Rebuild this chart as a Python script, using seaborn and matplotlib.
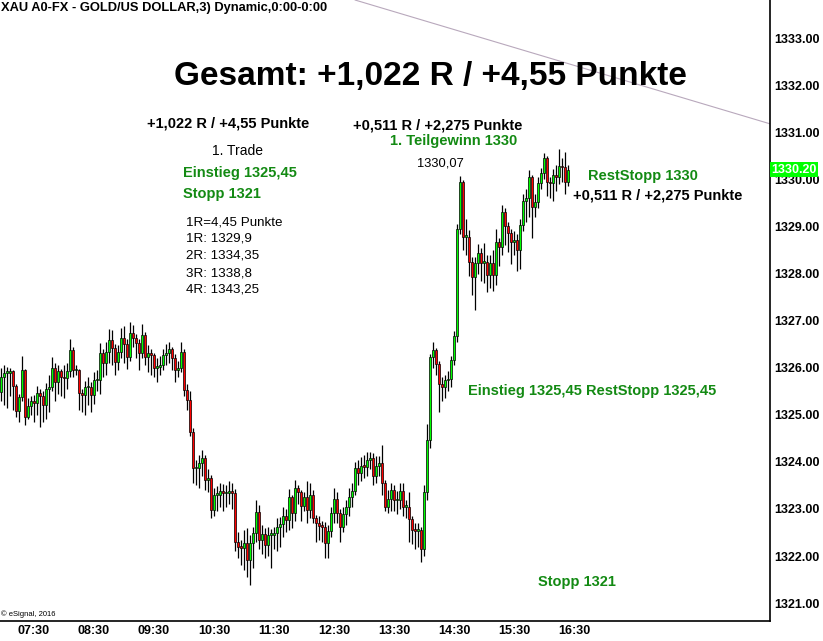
import numpy as np
import pandas as pd
import seaborn as sns
import matplotlib.pyplot as plt

sns.set_theme(style="white")
plt.rcParams['font.family'] = ['Liberation Sans', 'DejaVu Sans']

# 3-minute gold bars, 06:57 .. 16:24 (open = previous close)
first_open = 1325.49
close = [1325.81, 1325.89, 1325.89, 1325.93, 1325.61, 1325.08, 1325.38, 1325.95, 1324.96, 1325.19,
         1325.30, 1325.25, 1325.47, 1325.40, 1325.21, 1325.55, 1325.59, 1326.00, 1325.70, 1325.93,
         1325.81, 1325.78, 1325.93, 1326.38, 1325.95, 1325.95, 1325.47, 1325.42, 1325.59, 1325.59,
         1325.42, 1325.74, 1325.74, 1326.31, 1326.10, 1326.34, 1326.59, 1326.42, 1326.12, 1326.34,
         1326.63, 1326.51, 1326.23, 1326.74, 1326.63, 1326.53, 1326.31, 1326.70, 1326.23, 1326.31,
         1326.27, 1326.00, 1326.02, 1326.06, 1326.27, 1326.31, 1326.40, 1326.21, 1325.95, 1326.00,
         1326.34, 1325.53, 1325.32, 1324.64, 1323.87, 1323.87, 1323.98, 1324.09, 1323.62, 1323.66,
         1322.98, 1323.30, 1323.30, 1323.39, 1323.34, 1323.34, 1323.39, 1323.34, 1322.30, 1322.20,
         1322.18, 1322.28, 1321.92, 1322.28, 1322.49, 1322.94, 1322.35, 1322.47, 1322.24, 1322.45,
         1322.45, 1322.49, 1322.62, 1322.68, 1322.85, 1322.77, 1323.26, 1322.92, 1323.45, 1323.36,
         1323.07, 1323.26, 1322.98, 1323.30, 1322.81, 1322.71, 1322.64, 1322.62, 1322.28, 1322.54,
         1322.92, 1323.22, 1322.92, 1322.62, 1322.90, 1323.05, 1323.26, 1323.39, 1323.87, 1323.77,
         1323.92, 1323.90, 1324.04, 1324.09, 1323.70, 1323.92, 1323.98, 1323.56, 1323.05, 1323.22,
         1323.41, 1323.19, 1323.19, 1323.39, 1323.05, 1323.05, 1322.79, 1322.56, 1322.54, 1322.56,
         1322.15, 1323.36, 1324.47, 1326.23, 1326.38, 1326.08, 1325.66, 1325.59, 1325.74, 1325.76,
         1326.17, 1326.68, 1328.95, 1329.94, 1328.78, 1328.78, 1328.25, 1327.93, 1328.23, 1328.44,
         1328.23, 1328.25, 1327.97, 1328.23, 1327.97, 1328.67, 1328.57, 1329.31, 1329.01, 1328.86,
         1328.67, 1328.71, 1328.50, 1329.03, 1329.54, 1329.61, 1330.05, 1329.41, 1329.52, 1329.92,
         1330.14, 1330.45, 1329.94, 1329.92, 1330.09, 1330.05, 1330.28, 1330.26, 1329.94, 1330.20]
high = [1326.00, 1326.05, 1326.02, 1326.00, 1325.95, 1325.65, 1325.45, 1326.25, 1325.98, 1325.35,
        1325.40, 1325.42, 1325.62, 1325.55, 1325.50, 1325.68, 1325.85, 1326.22, 1326.10, 1326.05,
        1325.98, 1326.05, 1326.10, 1326.62, 1326.45, 1326.05, 1325.98, 1325.55, 1325.72, 1325.80,
        1325.70, 1325.90, 1325.95, 1326.52, 1326.40, 1326.55, 1326.82, 1326.80, 1326.50, 1326.48,
        1326.85, 1326.88, 1326.60, 1326.98, 1326.90, 1326.72, 1326.60, 1326.92, 1326.75, 1326.48,
        1326.40, 1326.32, 1326.20, 1326.25, 1326.40, 1326.50, 1326.55, 1326.45, 1326.30, 1326.15,
        1326.55, 1326.40, 1325.65, 1325.50, 1324.72, 1324.05, 1324.15, 1324.25, 1324.15, 1323.85,
        1323.72, 1323.45, 1323.48, 1323.55, 1323.52, 1323.50, 1323.60, 1323.55, 1323.42, 1322.50,
        1322.35, 1322.55, 1322.60, 1322.45, 1322.62, 1323.20, 1323.08, 1322.65, 1322.60, 1322.62,
        1322.58, 1322.62, 1322.80, 1322.82, 1323.05, 1323.00, 1323.42, 1323.30, 1323.62, 1323.50,
        1323.40, 1323.35, 1323.60, 1323.55, 1323.40, 1322.88, 1322.85, 1322.75, 1322.72, 1322.65,
        1323.05, 1323.45, 1323.35, 1323.00, 1323.05, 1323.20, 1323.45, 1323.55, 1324.00, 1324.05,
        1324.10, 1324.15, 1324.20, 1324.20, 1324.18, 1324.12, 1324.12, 1324.35, 1323.62, 1323.40,
        1323.55, 1323.50, 1323.38, 1323.55, 1323.55, 1323.20, 1323.35, 1322.85, 1322.70, 1322.70,
        1322.62, 1323.50, 1324.80, 1326.30, 1326.55, 1326.42, 1326.15, 1325.80, 1325.85, 1325.92,
        1326.25, 1326.78, 1329.05, 1330.07, 1329.98, 1329.15, 1328.92, 1328.35, 1328.35, 1328.62,
        1328.55, 1328.65, 1328.40, 1328.40, 1328.50, 1328.95, 1328.75, 1329.45, 1329.40, 1329.10,
        1328.95, 1328.90, 1328.85, 1329.15, 1329.70, 1329.80, 1330.20, 1330.10, 1329.70, 1330.05,
        1330.25, 1330.56, 1330.50, 1330.05, 1330.22, 1330.30, 1330.65, 1330.45, 1330.58, 1330.30]
low = [1325.30, 1325.20, 1325.15, 1325.40, 1325.10, 1324.95, 1324.85, 1325.30, 1324.78, 1324.90,
       1325.00, 1324.85, 1325.00, 1324.75, 1324.85, 1324.92, 1325.05, 1325.50, 1325.30, 1325.45,
       1325.40, 1325.35, 1325.55, 1325.80, 1325.80, 1325.85, 1325.10, 1325.05, 1325.00, 1325.20,
       1325.05, 1325.22, 1325.50, 1325.45, 1325.80, 1325.85, 1326.10, 1326.05, 1325.85, 1325.95,
       1326.20, 1326.10, 1325.98, 1326.15, 1326.45, 1326.20, 1325.95, 1326.20, 1326.05, 1325.90,
       1325.85, 1325.80, 1325.70, 1325.85, 1325.95, 1326.05, 1326.10, 1325.95, 1325.70, 1325.80,
       1325.90, 1325.40, 1325.10, 1324.55, 1323.55, 1323.50, 1323.45, 1323.70, 1323.40, 1323.35,
       1322.80, 1322.85, 1322.95, 1323.05, 1322.95, 1323.05, 1323.10, 1323.00, 1322.10, 1321.95,
       1321.80, 1321.70, 1321.55, 1321.39, 1321.75, 1322.30, 1322.15, 1322.05, 1321.95, 1322.00,
       1321.75, 1322.15, 1322.10, 1322.20, 1322.40, 1322.50, 1322.55, 1322.60, 1322.75, 1323.10,
       1322.75, 1322.95, 1322.70, 1322.80, 1322.70, 1322.30, 1322.35, 1322.30, 1321.95, 1321.95,
       1322.40, 1322.70, 1322.70, 1322.30, 1322.50, 1322.65, 1322.85, 1323.05, 1323.30, 1323.50,
       1323.60, 1323.65, 1323.70, 1323.85, 1323.50, 1323.55, 1323.70, 1323.30, 1322.95, 1322.92,
       1322.95, 1322.95, 1322.90, 1323.00, 1322.85, 1322.80, 1322.30, 1322.25, 1322.15, 1322.20,
       1321.88, 1322.00, 1323.20, 1324.30, 1326.00, 1325.85, 1325.05, 1325.30, 1325.35, 1325.50,
       1325.60, 1326.05, 1326.55, 1328.85, 1328.50, 1328.40, 1327.95, 1327.55, 1327.23, 1328.00,
       1327.85, 1327.80, 1327.60, 1327.70, 1327.62, 1327.75, 1328.15, 1328.40, 1328.60, 1328.45,
       1328.20, 1328.40, 1328.05, 1328.10, 1328.90, 1329.10, 1329.20, 1328.75, 1329.20, 1329.40,
       1329.80, 1330.00, 1329.65, 1329.60, 1329.55, 1329.75, 1329.90, 1329.95, 1329.70, 1329.85]

start_minute = 417          # 06:57
bar_minutes = 3
x_tick_minutes = [450, 510, 570, 630, 690, 750, 810, 870, 930, 990]
x_tick_labels = ["07:30", "08:30", "09:30", "10:30", "11:30",
                 "12:30", "13:30", "14:30", "15:30", "16:30"]
y_ticks = [1321, 1322, 1323, 1324, 1325, 1326, 1327, 1328, 1329, 1330, 1331, 1332, 1333]
last_price = 1330.20
trend_minutes = [771, 1186]
trend_prices = [1333.81, 1331.18]

df = pd.DataFrame({"close": close, "high": high, "low": low})
df["open"] = [first_open] + close[:-1]
df["t"] = start_minute + bar_minutes * np.arange(len(df))
up = df["close"] >= df["open"]

W, H = 823, 641
fig = plt.figure(figsize=(W / 100, H / 100), dpi=100)
ax = fig.add_axes([0, 20 / H, 770 / W, 621 / H])

# wicks and bodies
ax.vlines(df["t"], df["low"], df["high"], color="black", lw=0.9, zorder=2)
body_low = df[["open", "close"]].min(axis=1)
body_h = (df["close"] - df["open"]).abs().clip(lower=0.03)
ax.bar(df["t"], body_h, bottom=body_low, width=2.8,
       color=np.where(up, "#00ff00", "#ff0000"), edgecolor="black", linewidth=0.5, zorder=3)

ax.plot(trend_minutes, trend_prices, color="#b8a8bc", lw=0.8, zorder=1)

ax.set_xlim(416, 1186)
ax.set_ylim(1320.62, 1333.81)
ax.set_xticks(x_tick_minutes)
ax.set_xticklabels(x_tick_labels, fontsize=9, fontweight="bold")
ax.set_yticks(y_ticks)
ax.set_yticklabels([f"{v:.2f}" for v in y_ticks], fontsize=9, fontweight="bold")
ax.yaxis.tick_right()
ax.tick_params(axis="both", length=0, pad=3, colors="black")
ax.grid(False)
for side in ["left", "top"]:
    ax.spines[side].set_visible(False)
for side in ["right", "bottom"]:
    ax.spines[side].set_color("black")
    ax.spines[side].set_linewidth(1.2)

# current price marker
ax.text(1.0015, last_price, f"{last_price:.2f}", transform=ax.get_yaxis_transform(),
        ha="left", va="center", fontsize=9, fontweight="bold", color="white", zorder=5,
        bbox=dict(boxstyle="square,pad=0.12", facecolor="#00ff00", edgecolor="none"))

green = "#138a13"


def label(x, y, s, size=10.5, color="black", weight="bold", ha="left"):
    fig.text(x / W, 1 - y / H, s, fontsize=size, color=color, fontweight=weight,
             ha=ha, va="center")


label(1, 8, "XAU A0-FX - GOLD/US DOLLAR,3) Dynamic,0:00-0:00", size=9.3)
label(430, 76, "Gesamt: +1,022 R / +4,55 Punkte", size=24, ha="center")
label(228, 123, "+1,022 R / +4,55 Punkte", ha="center")
label(238, 151, "1. Trade", size=10, weight="normal", ha="center")
label(183, 173, "Einstieg 1325,45", color=green)
label(183, 194, "Stopp 1321", color=green)
for i, s in enumerate(["1R=4,45 Punkte", "1R: 1329,9", "2R: 1334,35", "3R: 1338,8", "4R: 1343,25"]):
    label(186, 222 + 17 * i, s, size=9.6, weight="normal")
label(438, 126, "+0,511 R / +2,275 Punkte", ha="center")
label(454, 141, "1. Teilgewinn 1330", color=green, ha="center")
label(440, 163, "1330,07", size=9.3, weight="normal", ha="center")
label(588, 176, "RestStopp 1330", color=green)
label(573, 196, "+0,511 R / +2,275 Punkte")
label(468, 391, "Einstieg 1325,45", color=green)
label(586, 391, "RestStopp 1325,45", color=green)
label(538, 582, "Stopp 1321", color=green)
label(1, 614, "© eSignal, 2016", size=5.5, weight="normal")

fig.savefig("out.png", dpi=100)
